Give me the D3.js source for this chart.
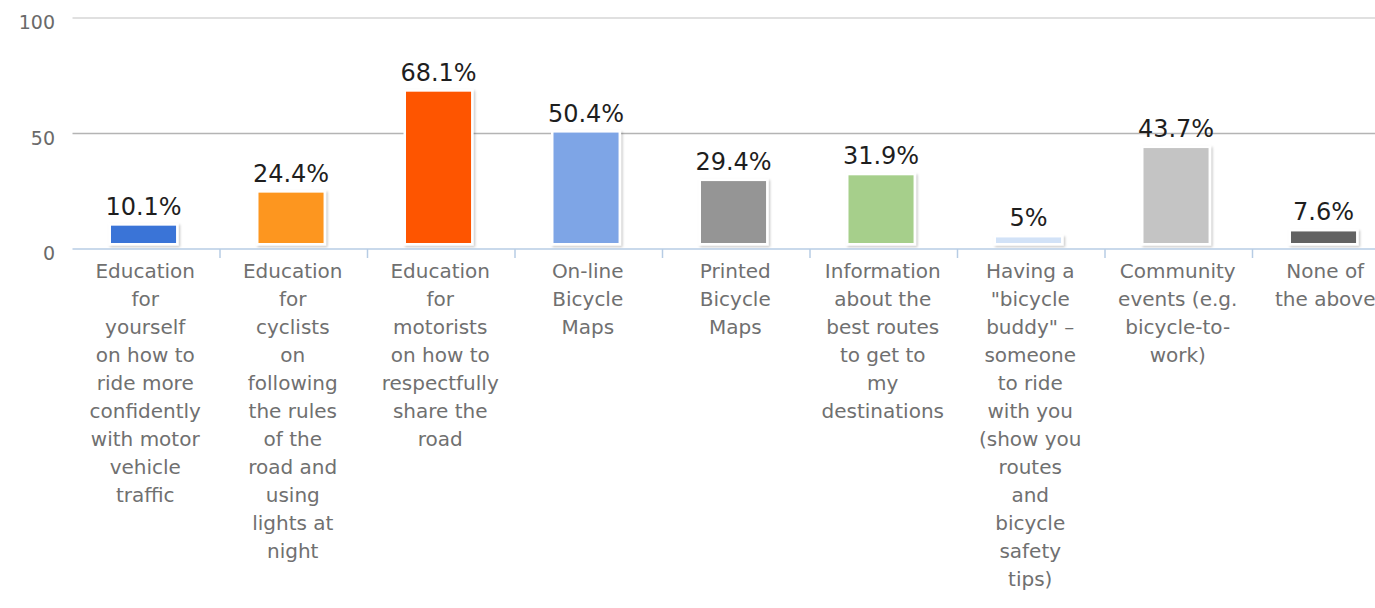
<!DOCTYPE html>
<html>
<head>
<meta charset="utf-8">
<script src="https://cdn.jsdelivr.net/npm/d3@7/dist/d3.min.js"></script>
<style>
  body { margin: 0; background: #fff; }
  svg { display: block; font-family: "DejaVu Sans", sans-serif; }
</style>
</head>
<body>
<svg id="chart" width="1375" height="608"></svg>
<script>
// Survey answers: what would help you ride more?
const categories = [
  "Education for yourself",
  "Education for cyclists",
  "Education for motorists",
  "On-line Bicycle Maps",
  "Printed Bicycle Maps",
  "Information about routes",
  "Bicycle buddy",
  "Community events",
  "None of the above"
];

const labelLines = [
  ["Education", "for", "yourself", "on how to", "ride more", "confidently", "with motor", "vehicle", "traffic"],
  ["Education", "for", "cyclists", "on", "following", "the rules", "of the", "road and", "using", "lights at", "night"],
  ["Education", "for", "motorists", "on how to", "respectfully", "share the", "road"],
  ["On-line", "Bicycle", "Maps"],
  ["Printed", "Bicycle", "Maps"],
  ["Information", "about the", "best routes", "to get to", "my", "destinations"],
  ["Having a", "\"bicycle", "buddy\" \u2013", "someone", "to ride", "with you", "(show you", "routes", "and", "bicycle", "safety", "tips)"],
  ["Community", "events (e.g.", "bicycle-to-", "work)"],
  ["None of", "the above"]
];

const values = [10.1, 24.4, 68.1, 50.4, 29.4, 31.9, 5, 43.7, 7.6];
const valueLabels = ["10.1%", "24.4%", "68.1%", "50.4%", "29.4%", "31.9%", "5%", "43.7%", "7.6%"];
const colors = ["#3a74d7", "#fd961f", "#fe5500", "#7ea5e6", "#959595", "#a6cf8b", "#d2e2f7", "#c4c4c4", "#626262"];
const yTicks = [0, 50, 100];

const svg = d3.select("#chart");

const x = d3.scaleBand().domain(categories).range([72.5, 1400]).padding(0);
const y = d3.scaleLinear().domain([0, 100]).range([249, 18]);
const bw = x.bandwidth();

const defs = svg.append("defs");
const shadow = defs.append("filter").attr("id", "barShadow")
  .attr("x", "-20%").attr("y", "-20%").attr("width", "140%").attr("height", "140%");
shadow.append("feDropShadow")
  .attr("dx", 1.5).attr("dy", 1.5).attr("stdDeviation", 1.2)
  .attr("flood-color", "#000").attr("flood-opacity", 0.22);

// gridlines
svg.append("g").selectAll("line")
  .data(yTicks.filter(t => t > 0))
  .join("line")
  .attr("x1", x.range()[0]).attr("x2", 1375)
  .attr("y1", d => y(d)).attr("y2", d => y(d))
  .attr("stroke", d => d === 100 ? "#d6d6d6" : "#b4b4b4")
  .attr("stroke-width", 1.5);

// y tick labels
svg.append("g").selectAll("text")
  .data(yTicks)
  .join("text")
  .attr("x", 55)
  .attr("y", d => y(d) + 4)
  .attr("dominant-baseline", "central")
  .attr("text-anchor", "end")
  .attr("font-size", 19)
  .attr("fill", "#6a6a6a")
  .text(d => d);

// bars: white backing with soft shadow, then the coloured fill
const barX = c => x(c) + bw * 0.261;
const barW = bw * 0.441;
const barBottom = y(0) - 6;

const bars = svg.append("g").selectAll("g")
  .data(categories)
  .join("g");

bars.append("rect")
  .attr("x", c => barX(c) - 2.5)
  .attr("y", (c, i) => y(values[i]) - 2.5)
  .attr("width", barW + 5)
  .attr("height", (c, i) => barBottom - y(values[i]) + 5)
  .attr("fill", "#fff")
  .attr("filter", "url(#barShadow)");

bars.append("rect")
  .attr("x", c => barX(c))
  .attr("y", (c, i) => y(values[i]))
  .attr("width", barW)
  .attr("height", (c, i) => Math.max(0, barBottom - y(values[i])))
  .attr("fill", (c, i) => colors[i]);

// value labels
svg.append("g").selectAll("text")
  .data(categories)
  .join("text")
  .attr("x", c => barX(c) + barW / 2)
  .attr("y", (c, i) => y(values[i]) - 11)
  .attr("text-anchor", "middle")
  .attr("font-size", 24)
  .attr("fill", "#1e1e1e")
  .text((c, i) => valueLabels[i]);

// category axis
const axis = svg.append("g");
axis.append("line")
  .attr("x1", x.range()[0]).attr("x2", 1375)
  .attr("y1", y(0)).attr("y2", y(0))
  .attr("stroke", "#b7cce4").attr("stroke-width", 1.5);

axis.selectAll("line.tick")
  .data(categories.slice(1))
  .join("line")
  .attr("class", "tick")
  .attr("x1", c => x(c)).attr("x2", c => x(c))
  .attr("y1", y(0)).attr("y2", y(0) + 9)
  .attr("stroke", "#b7cce4").attr("stroke-width", 1.5);

const catLabels = axis.selectAll("text")
  .data(categories)
  .join("text")
  .attr("text-anchor", "middle")
  .attr("font-size", 20)
  .attr("fill", "#707070");

catLabels.selectAll("tspan")
  .data((c, i) => labelLines[i].map(line => ({ c, line })))
  .join("tspan")
  .attr("x", d => x(d.c) + bw / 2 - 1)
  .attr("y", (d, j) => 278 + j * 28)
  .text(d => d.line);
</script>
</body>
</html>
